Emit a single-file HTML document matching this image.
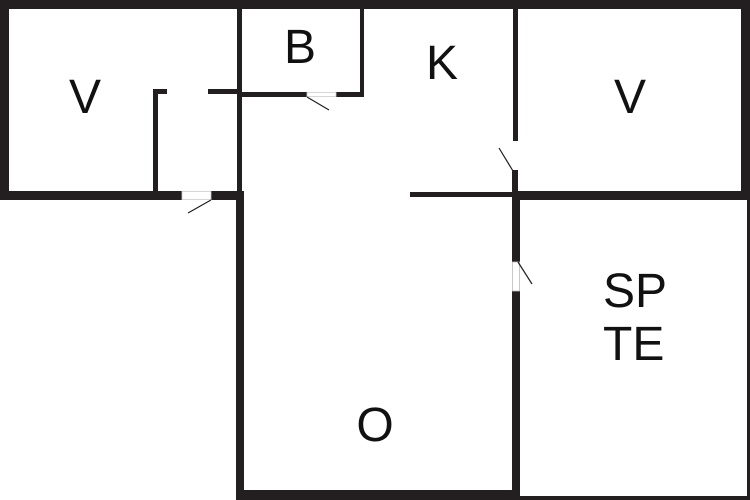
<!DOCTYPE html>
<html><head><meta charset="utf-8"><style>
html,body{margin:0;padding:0;background:#fff;}
svg{display:block}
text{font-family:"Liberation Sans",sans-serif;font-size:48px;fill:#111;}
</style></head><body>
<svg width="750" height="500" viewBox="0 0 750 500" xmlns="http://www.w3.org/2000/svg">
<g fill="#231f20">
<!-- top wall -->
<rect x="0" y="0" width="750" height="9"/>
<!-- left wall -->
<rect x="0" y="0" width="9" height="200"/>
<!-- left V bottom wall with door gap -->
<rect x="0" y="191" width="182" height="9"/>
<rect x="211" y="191" width="33" height="9"/>
<!-- small vertical in hall -->
<rect x="153" y="89" width="5" height="105"/>
<rect x="153" y="89" width="14" height="5"/>
<rect x="208" y="89" width="30" height="5"/>
<!-- main vertical wall -->
<rect x="237" y="0" width="5" height="200"/>
<rect x="236" y="191" width="8" height="309"/>
<!-- B room -->
<rect x="360" y="0" width="4" height="97"/>
<rect x="240" y="92" width="67" height="5"/>
<rect x="336" y="92" width="28" height="5"/>
<!-- K/V vertical -->
<rect x="513" y="0" width="5" height="141"/>
<rect x="512" y="170" width="6" height="26"/>
<rect x="512" y="192" width="8" height="70"/>
<rect x="512" y="291" width="8" height="209"/>
<!-- horizontal K / O -->
<rect x="410" y="192" width="104" height="5"/>
<rect x="514" y="191" width="236" height="9"/>
<!-- right wall -->
<rect x="741" y="0" width="9" height="200"/>
<rect x="747" y="200" width="3" height="300"/>
<!-- bottom -->
<rect x="236" y="490" width="284" height="10"/>
<rect x="518" y="496" width="232" height="4"/>
</g>
<!-- door frames -->
<rect x="307" y="92.5" width="29" height="4" fill="#fff" stroke="#ccc" stroke-width="0.8"/>
<rect x="182" y="191.5" width="29" height="8" fill="#fff" stroke="#ccc" stroke-width="0.8"/>
<rect x="512.5" y="262" width="7" height="29" fill="#fff" stroke="#bbb" stroke-width="0.8"/>
<!-- door swing lines -->
<g stroke="#231f20" stroke-width="1.2">
<line x1="307" y1="97" x2="329" y2="110"/>
<line x1="211" y1="200" x2="188" y2="213"/>
<line x1="499" y1="148" x2="513" y2="171"/>
<line x1="518" y1="262" x2="532" y2="284"/>
</g>
<text x="85" y="113" text-anchor="middle">V</text>
<text x="300" y="63" text-anchor="middle">B</text>
<text x="442" y="79" text-anchor="middle">K</text>
<text x="630" y="113" text-anchor="middle">V</text>
<text x="603" y="307">SP</text>
<text x="603" y="360">TE</text>
<text x="375" y="441" text-anchor="middle">O</text>
</svg>
</body></html>
